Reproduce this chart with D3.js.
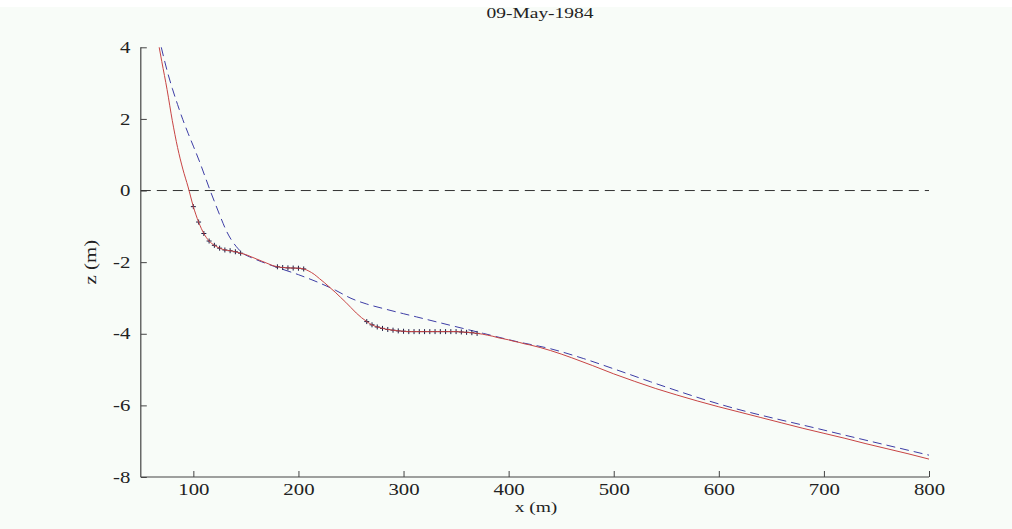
<!DOCTYPE html>
<html>
<head>
<meta charset="utf-8">
<script src="https://cdn.jsdelivr.net/npm/d3@7"></script>
<style>
  html, body { margin: 0; padding: 0; background: #f8fcf8; }
  svg { display: block; }
  text { font-family: "Liberation Serif", "DejaVu Serif", serif; fill: #222; }
</style>
</head>
<body>
<svg id="chart" width="1012" height="529"></svg>
<script>
// Surveyed beach profile (m): cross-shore distance and bed elevation
const profileX = [67.5, 70, 75, 80, 85, 90, 95, 100, 105, 110, 115, 120, 125, 130, 135, 140, 145,
  150, 155, 160, 165, 170, 175, 180, 185, 190, 195, 200, 205, 210, 215, 220, 225, 230, 235, 240,
  245, 250, 255, 260, 265, 270, 275, 280, 285, 290, 295, 300, 305, 310, 315, 320, 325, 330, 335,
  340, 345, 350, 355, 360, 365, 370, 375, 380, 385, 390, 395, 400, 405, 410, 415, 420,
  440, 460, 480, 500, 520, 540, 560, 580, 600, 620, 640, 660, 680, 700, 720, 740, 760, 780, 800];
const profileZ = [4.0, 3.6, 2.82, 1.95, 1.2, 0.6, 0.1, -0.45, -0.88, -1.2, -1.41, -1.53, -1.61, -1.66, -1.68, -1.71, -1.75,
  -1.79, -1.85, -1.91, -1.97, -2.03, -2.09, -2.13, -2.15, -2.16, -2.165, -2.17, -2.19, -2.25, -2.34, -2.46, -2.58, -2.71, -2.84, -2.98,
  -3.12, -3.27, -3.42, -3.55, -3.66, -3.75, -3.81, -3.85, -3.88, -3.90, -3.92, -3.93, -3.94, -3.94, -3.94, -3.94, -3.94, -3.94, -3.94,
  -3.94, -3.94, -3.94, -3.95, -3.96, -3.97, -3.99, -4.01, -4.04, -4.07, -4.11, -4.14, -4.17, -4.21, -4.24, -4.28, -4.31,
  -4.47, -4.67, -4.89, -5.12, -5.33, -5.53, -5.71, -5.88, -6.04, -6.19, -6.34, -6.49, -6.64, -6.78, -6.92, -7.07, -7.21, -7.35, -7.50];

// Stretches of the profile where survey points are marked with '+'
const surveyRanges = [[100, 145], [180, 205], [265, 370]];

// Equilibrium profile fitted to the survey
const equilX = [69.5, 75, 80, 85, 90, 95, 100, 106, 111, 116, 121, 126, 131, 136, 141, 147, 155, 165, 180,
  200, 220, 235, 250, 265, 280, 300, 312.5, 344, 376, 408, 440, 471, 503, 535, 600, 700, 800];
const equilZ = [4.0, 3.35, 2.85, 2.4, 1.98, 1.6, 1.24, 0.8, 0.4, 0.0, -0.38, -0.75, -1.1, -1.37, -1.57, -1.75, -1.87, -1.99, -2.15,
  -2.35, -2.58, -2.78, -3.01, -3.17, -3.29, -3.44, -3.53, -3.76, -3.99, -4.22, -4.42, -4.69, -5.01, -5.34, -5.96, -6.69, -7.39];

// Axes
const xTicks = [100, 200, 300, 400, 500, 600, 700, 800];
const yTicks = [-8, -6, -4, -2, 0, 2, 4];
const xDomain = [50, 800];
const yDomain = [-8, 4];
const seaLevel = 0;
const title = "09-May-1984";
const xLabel = "x (m)";
const yLabel = "z (m)";

const svg = d3.select("#chart");
const W = 1012, H = 529;
const stretch = 1.3;   // wide serif lettering

// white strip along the top edge
svg.append("rect").attr("x", 0).attr("y", 0).attr("width", W).attr("height", 7).attr("fill", "#ffffff");

const x = d3.scaleLinear().domain(xDomain).range([140.8, 929]);
const y = d3.scaleLinear().domain(yDomain).range([477, 47.3]);

// Axes (ticks point inward)
const xAxis = d3.axisBottom(x).tickValues(xTicks).tickSize(-6).tickPadding(7).tickFormat(d3.format("d"));
const yAxis = d3.axisLeft(y).tickValues(yTicks).tickSize(-6).tickPadding(8).tickFormat(d => d < 0 ? "-" + Math.abs(d) : String(d));

const gx = svg.append("g").attr("transform", `translate(0,${y(yDomain[0])})`).call(xAxis);
const gy = svg.append("g").attr("transform", `translate(${x(xDomain[0])},0)`).call(yAxis);
[gx, gy].forEach(g => {
  g.select(".domain").attr("stroke", "#444").attr("stroke-width", 1.2);
  g.selectAll(".tick line").attr("stroke", "#444").attr("stroke-width", 1);
  g.selectAll(".tick text")
    .attr("font-family", "Liberation Serif, serif").attr("font-size", 16).attr("fill", "#222")
    .attr("transform", `scale(${stretch},1)`);
});
gx.select(".domain").attr("d", `M${x(xDomain[0])},0H${x(xDomain[1])}`);
gy.select(".domain").attr("d", `M0,${y(yDomain[1])}V${y(yDomain[0])}`);

// sea level
svg.append("line")
  .attr("x1", x(xDomain[0])).attr("x2", x(xDomain[1]))
  .attr("y1", y(seaLevel)).attr("y2", y(seaLevel))
  .attr("stroke", "#333").attr("stroke-width", 1).attr("stroke-dasharray", "10,6");

const line = d3.line().x(d => x(d[0])).y(d => y(d[1])).curve(d3.curveMonotoneX);

const profile = profileX.map((v, i) => [v, profileZ[i]]);
const equil = equilX.map((v, i) => [v, equilZ[i]]);

// equilibrium profile (dashed blue)
svg.append("path").datum(equil)
  .attr("d", line).attr("fill", "none")
  .attr("stroke", "#3d3da6").attr("stroke-width", 1).attr("stroke-dasharray", "9,5");

// survey markers
const marked = profile.filter(d => surveyRanges.some(r => d[0] >= r[0] && d[0] <= r[1]));
const s = 2.5;
svg.append("g").selectAll("path").data(marked).join("path")
  .attr("d", d => `M${x(d[0]) - s},${y(d[1])}h${2 * s}M${x(d[0])},${y(d[1]) - s}v${2 * s}`)
  .attr("stroke", "#1c1c44").attr("stroke-width", 1).attr("fill", "none");

// surveyed profile (solid red)
svg.append("path").datum(profile)
  .attr("d", line).attr("fill", "none")
  .attr("stroke", "#c84444").attr("stroke-width", 1);

// title and axis labels
function label(px, py, str, size, rot) {
  svg.append("g").attr("transform", `translate(${px},${py}) rotate(${rot || 0}) scale(${stretch},1)`)
    .append("text").attr("text-anchor", "middle").attr("font-size", size).text(str);
}
label(540, 18, title, 15);
label(536, 512, xLabel, 15);
label(96, y(-2), yLabel, 16, -90);
</script>
</body>
</html>
